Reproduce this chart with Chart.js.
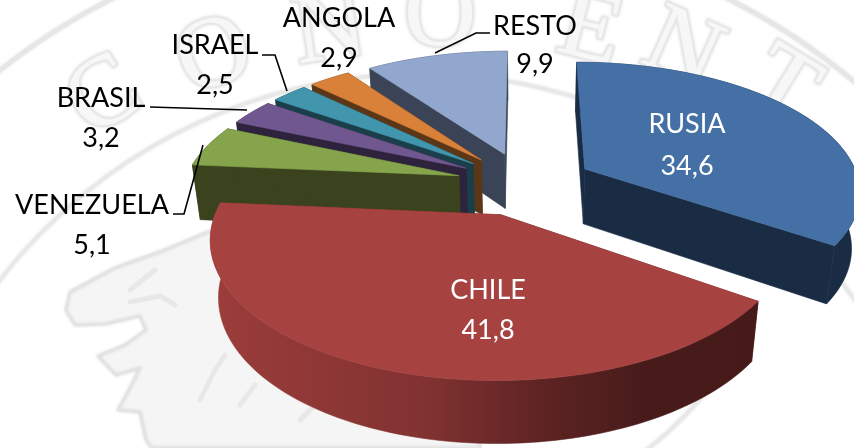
<!DOCTYPE html>
<html><head><meta charset="utf-8">
<style>html,body{margin:0;padding:0;background:#fff}canvas{display:block}</style>
<script src="https://cdn.jsdelivr.net/npm/chart.js@4"></script>
</head><body>
<canvas id="c" width="854" height="448"></canvas>
<script>
// Data
const categories = ['RUSIA','CHILE','VENEZUELA','BRASIL','ISRAEL','ANGOLA','RESTO'];
const values = [34.6,41.8,5.1,3.2,2.5,2.9,9.9];
const valueLabels = ['34,6','41,8','5,1','3,2','2,5','2,9','9,9'];
// Styles
const topColors  = ['#4570A6','#A64341','#86A44B','#71578F','#4196AE','#D98039','#92A7CD'];
const wallColors = ['#1A2C44','#6E2A2A','#3A431E','#2E233C','#1A3F4A','#5B3717','#3B4456'];
const chileRim = [[0,'#9C3D3B'],[0.4,'#803231'],[0.6,'#5E2423'],[0.8,'#461B1A'],[1,'#451A19']];
// Label layout: [cx, y of name, y of value, colour]
const labelLayout = [[687,124,166,'#fff'],[488,290,330,'#fff'],[92,205,245,'#000'],[101,98,138,'#000'],[215,45,85,'#000'],[339,18,58,'#000'],[535,26,64,'#000']];
const leaders = [null,null,[[173,214],[184,214],[203,145]],[[150,107],[247,110]],[[262,55],[275,55],[287,91]],null,[[490,33],[476,33],[435,53]]];
// Projection parameters
const P = {cx:525, cy:183.5, A:275, B:128, k:0.16, E:0.25, depth:57, dw:0.025};
const FONT = 'Lato, "Open Sans", sans-serif';

function proj(u,v,z){ // u right, v back, z 0 top..1 bottom
  const w = 1 + P.k*v + (z?P.dw:0);
  return [P.cx + P.A*u/w, P.cy - P.B*v/w + (z?P.depth/w:0)];
}
function slicePts(el,z){
  const mid=(el.startAngle+el.endAngle)/2;
  const ox=P.E*Math.cos(mid), oy=-P.E*Math.sin(mid);
  const n=Math.max(4,Math.ceil((el.endAngle-el.startAngle)*40));
  const arc=[];
  for(let i=0;i<=n;i++){
    const a=el.startAngle+(el.endAngle-el.startAngle)*i/n;
    arc.push(proj(ox+Math.cos(a),oy-Math.sin(a),z));
  }
  return {tip:proj(ox,oy,z),arc};
}
function poly(ctx,pts,fill){
  ctx.beginPath();pts.forEach((p,i)=>i?ctx.lineTo(p[0],p[1]):ctx.moveTo(p[0],p[1]));ctx.closePath();
  ctx.fillStyle=fill;ctx.fill();ctx.strokeStyle=fill;ctx.lineWidth=0.6;ctx.stroke();
}
function path(ctx,pts){ctx.beginPath();pts.forEach((p,i)=>i?ctx.lineTo(p[0],p[1]):ctx.moveTo(p[0],p[1]));}
const watermark = {
  id:'watermark',
  beforeDraw(chart){
    const ctx=chart.ctx;ctx.save();
    ctx.fillStyle='#fff';ctx.fillRect(0,0,854,448);
    ctx.shadowColor='rgba(170,170,170,0.5)';ctx.shadowBlur=3;
    // rings
    [[531,'#e8e8e8',3],[680,'#e6e6e6',4]].forEach(([r,c,w])=>{
      ctx.beginPath();ctx.arc(420,605,r,Math.PI,2*Math.PI);ctx.strokeStyle=c;ctx.lineWidth=w;ctx.stroke();
    });
    ctx.beginPath();ctx.arc(420,160,368,0.6,0.95);ctx.strokeStyle='#e8e8e8';ctx.lineWidth=3;ctx.stroke();
    // seal letters
    [['C',105,98,-0.55],['O',215,58,-0.35],['N',330,32,-0.15],['O',440,18,0],['E',590,32,0.25],['N',682,52,0.42],['T',782,88,0.55]].forEach(([t,x,y,r])=>{
      ctx.save();ctx.translate(x,y);ctx.rotate(r);
      ctx.font='100px "Liberation Serif", serif';ctx.textAlign='center';ctx.textBaseline='middle';
      ctx.strokeStyle='#e8e8e8';ctx.lineWidth=4;ctx.strokeText(t,0,0);
      ctx.shadowBlur=0;ctx.fillStyle='#f7f7f7';ctx.fillText(t,0,0);ctx.restore();
    });
    // seal emblem
    path(ctx,[[208,232],[165,250],[115,268],[70,292],[66,310],[75,325],[105,324],[140,316],[146,330],[125,345],[98,356],[116,375],[140,368],[128,392],[118,410],[140,412],[146,440],[152,448],[480,448],[480,260],[240,225]]);
    ctx.closePath();ctx.fillStyle='#f5f5f5';ctx.fill();ctx.strokeStyle='#e4e4e4';ctx.lineWidth=2;ctx.stroke();
    ctx.shadowBlur=0;
    ctx.strokeStyle='#e8e8e8';ctx.lineWidth=5;ctx.lineCap='round';
    [[[130,302],[160,296],[175,305]],[[130,290],[155,270]],[[200,400],[215,370],[225,355]],[[240,405],[255,385]],[[300,420],[325,395]]].forEach(l=>{path(ctx,l);ctx.stroke();});
    ctx.restore();
  }
};
const pie3d = {
  id:'pie3d',
  beforeDatasetDraw(){return false;},
  afterDatasetsDraw(chart){
    const ctx=chart.ctx, els=chart.getDatasetMeta(0).data;
    const order=els.map((el,i)=>({el,i,y:slicePts(el,0).tip[1]})).sort((a,b)=>a.y-b.y);
    ctx.save();
    order.forEach(({el,i})=>{
      const t=slicePts(el,0), b=slicePts(el,1);
      const wall=wallColors[i];
      poly(ctx,[t.tip,t.arc[0],b.arc[0],b.tip],wall);
      poly(ctx,[t.tip,t.arc[t.arc.length-1],b.arc[b.arc.length-1],b.tip],wall);
      let rim=wall;
      if(i===1){
        rim=ctx.createLinearGradient(208,0,760,0);
        chileRim.forEach(s=>rim.addColorStop(s[0],s[1]));
      }
      poly(ctx,t.arc.concat(b.arc.slice().reverse()),rim);
      poly(ctx,[t.tip].concat(t.arc),topColors[i]);
    });
    // leaders
    ctx.strokeStyle='#000';ctx.lineWidth=1.6;ctx.lineJoin='miter';
    leaders.forEach(l=>{if(!l)return;path(ctx,l);ctx.stroke();});
    // labels
    ctx.font='27px '+FONT;ctx.textAlign='center';ctx.textBaseline='middle';
    categories.forEach((c,i)=>{
      const [x,y1,y2,col]=labelLayout[i];
      ctx.fillStyle=col;ctx.fillText(c,x,y1);ctx.fillText(valueLabels[i],x,y2);
    });
    ctx.restore();
  }
};
new Chart(document.getElementById('c'),{
  type:'pie',
  data:{labels:categories,datasets:[{data:values,backgroundColor:topColors,borderWidth:0}]},
  options:{responsive:false,animation:false,plugins:{legend:{display:false},tooltip:{enabled:false}}},
  plugins:[watermark,pie3d]
});
</script>
</body></html>
